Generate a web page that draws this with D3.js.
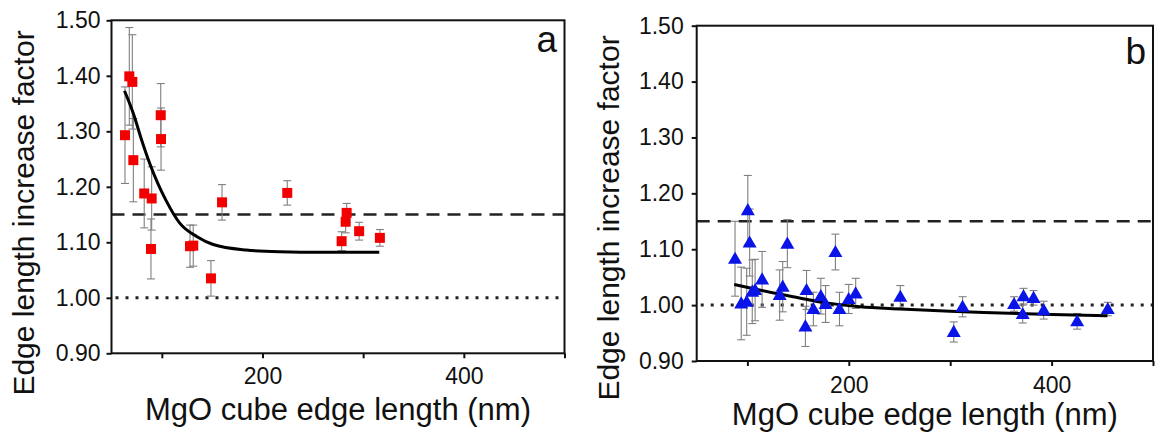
<!DOCTYPE html>
<html lang="en">
<head>
<meta charset="UTF-8">
<title>Edge length increase factor vs MgO cube edge length</title>
<script src="https://d3js.org/d3.v7.min.js"></script>
<style>
    body { margin: 0; background: #fff; }
    svg { display: block; font-family: "Liberation Sans", Arial, sans-serif; }
    .tick text { fill: #111; }
</style>
</head>
<body>
<svg width="1155" height="434"></svg>
<script>
// ---- data ----
const yTicks = [0.90, 1.00, 1.10, 1.20, 1.30, 1.40, 1.50];
const xTicks = [100, 200, 300, 400, 500];
const xTickLabels = [200, 400];
const dashedLevel = 1.15;
const dottedLevel = 1.00;

// panel a (red squares)
const sizeA   = [63.4, 67.7, 70.7, 71.7, 82.5, 89.9, 89.2, 98.9, 99.2, 128, 131.2, 148.8, 159.8, 224.6, 278.6, 282.6, 283.6, 296, 316.6];
const factorA = [1.293, 1.399, 1.389, 1.248, 1.188, 1.179, 1.088, 1.329, 1.286, 1.093, 1.094, 1.035, 1.172, 1.189, 1.102, 1.137, 1.153, 1.120, 1.108];
const errA    = [0.087, 0.088, 0.085, 0.075, 0.062, 0.057, 0.054, 0.057, 0.056, 0.038, 0.037, 0.032, 0.032, 0.022, 0.017, 0.020, 0.017, 0.016, 0.015];
const fitSizeA   = [62.9, 71.7, 80, 88, 96, 104, 118, 135, 151, 184, 217, 260, 316];
const fitFactorA = [1.373, 1.332, 1.284, 1.242, 1.206, 1.176, 1.134, 1.110, 1.096, 1.086, 1.083, 1.082, 1.082];

// panel b (blue triangles)
const sizeB   = [87.8, 100.4, 102.2, 93.9, 99.3, 104.8, 107.6, 114.5, 131.8, 134.8, 139.4, 158.3, 157.2, 165.1, 172.4, 177.1, 186.8, 190.8, 199.9, 206.8, 250.8, 303.5, 312.2, 363, 372.3, 371.5, 382.2, 392.2, 425.2, 455.4];
const factorB = [1.083, 1.170, 1.112, 1.003, 1.006, 1.024, 1.027, 1.046, 1.018, 1.033, 1.110, 1.027, 0.962, 0.993, 1.016, 1.002, 1.095, 0.993, 1.011, 1.021, 1.015, 0.952, 0.997, 1.002, 1.016, 0.984, 1.013, 0.991, 0.971, 0.993];
const errB    = [0.067, 0.062, 0.060, 0.065, 0.060, 0.057, 0.055, 0.050, 0.045, 0.045, 0.043, 0.035, 0.036, 0.030, 0.032, 0.033, 0.032, 0.030, 0.026, 0.027, 0.020, 0.018, 0.018, 0.013, 0.014, 0.016, 0.013, 0.016, 0.014, 0.012];
const fitSizeB   = [87, 112, 145, 178, 211, 251, 300, 350, 400, 455];
const fitFactorB = [1.037, 1.027, 1.015, 1.004, 0.997, 0.993, 0.989, 0.986, 0.983, 0.981];

const yTitle = "Edge length increase factor";
const xTitle = "MgO cube edge length (nm)";

const svg = d3.select("svg");

function drawPanel(p) {
    const x = d3.scaleLinear().domain([50, 500]).range([p.left, p.right]);
    const y = d3.scaleLinear().domain([0.90, 1.50]).range([p.bottom, p.top]);
    const g = svg.append("g");

    // reference lines
    g.append("line")
        .attr("x1", x(50)).attr("x2", x(500))
        .attr("y1", y(dashedLevel)).attr("y2", y(dashedLevel))
        .attr("stroke", "#222").attr("stroke-width", 2.5)
        .attr("stroke-dasharray", "13,8");
    g.append("line")
        .attr("x1", x(50) + 4).attr("x2", x(500))
        .attr("y1", y(dottedLevel)).attr("y2", y(dottedLevel))
        .attr("stroke", "#222").attr("stroke-width", 3)
        .attr("stroke-dasharray", "3,7");

    // axes
    const yAxis = d3.axisLeft(y).tickValues(yTicks).tickSize(5)
        .tickPadding(p.yPad).tickFormat(d3.format(".2f"));
    g.append("g").attr("transform", `translate(${p.left},0)`).call(yAxis)
        .call(a => a.select(".domain").remove())
        .call(a => a.selectAll("line").attr("stroke", "#111").attr("stroke-width", 2))
        .call(a => a.selectAll("text").attr("font-size", 23).attr("font-family", null));

    const xAxis = d3.axisBottom(x).tickValues(xTicks).tickSize(5)
        .tickPadding(p.xPad).tickFormat(d => xTickLabels.includes(d) ? d : "");
    g.append("g").attr("transform", `translate(0,${p.bottom})`).call(xAxis)
        .call(a => a.select(".domain").remove())
        .call(a => a.selectAll("line").attr("stroke", "#111").attr("stroke-width", 2))
        .call(a => a.selectAll("text").attr("font-size", 23).attr("font-family", null));

    // frame
    g.append("rect")
        .attr("x", p.left).attr("y", p.top)
        .attr("width", p.right - p.left).attr("height", p.bottom - p.top)
        .attr("fill", "none").attr("stroke", "#111").attr("stroke-width", 2);

    const pts = p.sizes.map((s, i) => ({ s: s, f: p.factors[i], e: p.errs[i] }));

    // error bars
    const eb = g.append("g").attr("stroke", "#808080").attr("stroke-width", 1.1);
    pts.forEach(d => {
        const top = Math.min(d.f + d.e, 1.50);
        eb.append("line").attr("x1", x(d.s)).attr("x2", x(d.s))
            .attr("y1", y(d.f - d.e)).attr("y2", y(top));
        [d.f - d.e, d.f + d.e].forEach(v => {
            if (v > 1.50) return;
            eb.append("line").attr("x1", x(d.s) - 4).attr("x2", x(d.s) + 4)
                .attr("y1", y(v)).attr("y2", y(v));
        });
    });

    // fit curve
    const line = d3.line().x(d => x(d[0])).y(d => y(d[1])).curve(d3.curveMonotoneX);
    g.append("path")
        .datum(p.fitX.map((v, i) => [v, p.fitY[i]]))
        .attr("d", line)
        .attr("fill", "none").attr("stroke", "#000").attr("stroke-width", 3);

    // markers
    g.append("g").selectAll("path").data(pts).join("path")
        .attr("transform", d => `translate(${x(d.s)},${y(d.f) + p.markerDy})`)
        .attr("d", d3.symbol().type(p.symbol).size(p.symbolSize))
        .attr("fill", p.color);

    // titles
    g.append("text")
        .attr("transform", `translate(${p.yTitleX},${p.yTitleY}) rotate(-90)`)
        .attr("text-anchor", "middle").attr("font-size", 30).attr("fill", "#111")
        .text(yTitle);
    g.append("text")
        .attr("x", (p.left + p.right) / 2).attr("y", p.xTitleY)
        .attr("text-anchor", "middle").attr("font-size", 31).attr("fill", "#111")
        .text(xTitle);
    g.append("text")
        .attr("x", p.letterX).attr("y", p.letterY)
        .attr("text-anchor", "end").attr("font-size", 37).attr("fill", "#111")
        .text(p.letter);
}

drawPanel({
    left: 111.5, right: 564.5, top: 20.3, bottom: 353.3,
    sizes: sizeA, factors: factorA, errs: errA, fitX: fitSizeA, fitY: fitFactorA,
    symbol: d3.symbolSquare, symbolSize: 100, markerDy: 0, color: "#f20000",
    yPad: 6, xPad: 9, yTitleX: 34, yTitleY: 213, xTitleY: 420,
    letter: "a", letterX: 557, letterY: 52
});

drawPanel({
    left: 696.7, right: 1153, top: 25.7, bottom: 361,
    sizes: sizeB, factors: factorB, errs: errB, fitX: fitSizeB, fitY: fitFactorB,
    symbol: d3.symbolTriangle, symbolSize: 85, markerDy: 1, color: "#0a14e6",
    yPad: 8, xPad: 11, yTitleX: 619, yTitleY: 218, xTitleY: 425,
    letter: "b", letterX: 1146, letterY: 64
});
</script>
</body>
</html>
